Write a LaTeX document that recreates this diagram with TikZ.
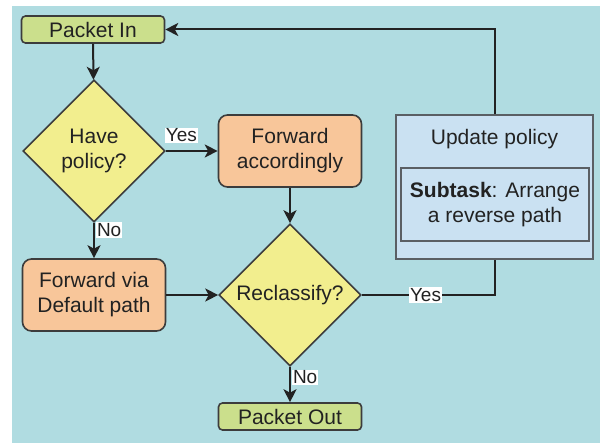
\documentclass[tikz,border=0pt]{standalone}
\usepackage{fontspec}
\setmainfont{Liberation Sans}
\usetikzlibrary{arrows.meta,shapes.geometric,positioning}
\definecolor{bgblue}{RGB}{176,220,225}
\definecolor{termgreen}{RGB}{203,223,140}
\definecolor{procorange}{RGB}{248,198,154}
\definecolor{decyellow}{RGB}{242,238,142}
\definecolor{updblue}{RGB}{202,225,242}
\definecolor{edge}{RGB}{60,60,60}
\definecolor{boxedge}{RGB}{90,95,100}
\definecolor{ink}{RGB}{34,34,34}
\tikzset{
  base/.style={draw=edge, line width=1.6pt, align=center, text=ink,
    font=\fontsize{21}{25}\selectfont, inner sep=0pt},
  terminal/.style={base, fill=termgreen, rounded corners=4pt,
    minimum width=143pt, minimum height=27pt},
  process/.style={base, fill=procorange, rounded corners=9pt,
    minimum width=143pt, minimum height=72pt},
  decision/.style={base, fill=decyellow, diamond, aspect=1,
    minimum width=142pt, minimum height=142pt},
  flow/.style={draw=ink, line width=2pt,
    -{Stealth[length=13pt,width=13pt,inset=3.5pt]}},
  link/.style={draw=ink, line width=2pt},
  edgelabel/.style={fill=white, inner sep=1pt, text=ink,
    font=\fontsize{19}{22}\selectfont}
}
\begin{document}
\begin{tikzpicture}[x=1pt,y=-1pt]
  \useasboundingbox (0,0) rectangle (601,443);
  \fill[bgblue] (12,6) rectangle (600,443);

  % nodes of the flow
  \node[terminal] (in) at (93,29.5) {Packet In};
  \node[decision] (have) at (94,151) {Have\\policy?};
  \node[process] (fwdacc) at (290,151) {Forward\\accordingly};
  \node[process] (fwddef) at (94,295) {Forward via\\Default path};
  \node[decision] (recl) at (290,295) {Reclassify?};
  \node[terminal] (out) at (290,416.5) {Packet Out};

  % policy update container with its subtask
  \node[base, draw=boxedge, line width=1.8pt, fill=updblue, minimum width=197pt,
        minimum height=144pt] (upd) at (494.5,187) {};
  \node[base, draw=boxedge, line width=2pt, fill=updblue, minimum width=188pt,
        minimum height=73pt] (sub) at (495,205)
        {\textbf{Subtask}: Arrange\\a reverse path};
  \node[font=\fontsize{21}{25}\selectfont, text=ink] (updtitle)
        at (494.5,139) {Update policy};

  % connectors
  \draw[flow] (in) -- (have);
  \draw[flow] (have.east) -- node[edgelabel, above=7pt, pos=0.3] {Yes} (fwdacc.west);
  \draw[flow] (have.south) -- node[edgelabel, right=1pt, pos=0.2] {No} (fwddef.north);
  \draw[flow] (fwdacc.south) -- (recl.north);
  \draw[flow] (fwddef.east) -- (recl.west);
  \draw[flow] (recl.south) -- node[edgelabel, right=1pt, pos=0.3] {No} (out.north);
  \draw[link] (recl.east) -- node[edgelabel, pos=0.48] {Yes} (upd.south |- recl.east) -- (upd.south);
  \draw[flow] (upd.north) -- (upd.north |- in.east) -- (in.east);
\end{tikzpicture}
\end{document}
